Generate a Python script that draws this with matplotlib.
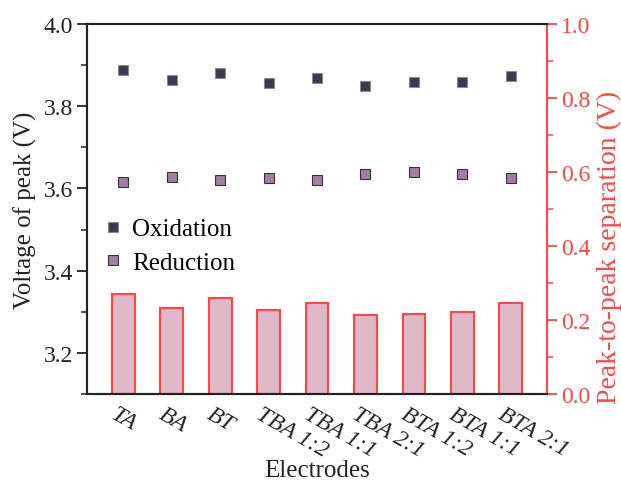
import numpy as np
import matplotlib
matplotlib.use("Agg")
import matplotlib.pyplot as plt
import matplotlib.transforms as mtransforms
from matplotlib.ticker import MultipleLocator

plt.rcParams['font.family'] = ['Liberation Serif', 'DejaVu Serif']

electrodes = ['TA', 'BA', 'BT', 'TBA 1:2', 'TBA 1:1', 'TBA 2:1', 'BTA 1:2', 'BTA 1:1', 'BTA 2:1']
oxidation = [3.888, 3.863, 3.882, 3.856, 3.868, 3.848, 3.859, 3.859, 3.874]
reduction = [3.616, 3.628, 3.621, 3.626, 3.621, 3.635, 3.640, 3.635, 3.626]
separation = [0.270, 0.233, 0.259, 0.228, 0.246, 0.212, 0.216, 0.222, 0.247]

red = '#ff4545'
fs = 17

fig = plt.figure(figsize=(6.21, 4.81), dpi=100)
ax = fig.add_axes([0.140, 0.179, 0.741, 0.769])
ax2 = ax.twinx()

x = np.arange(len(electrodes))

ax2.bar(x, separation, width=0.47, color='#e0b9c9', edgecolor=red, linewidth=1.5, zorder=2)
ax.plot(x, oxidation, 's', ms=7.5, color='#3c3b4b', mec='#8a8a8a', mew=0.8, label='Oxidation', zorder=3)
ax.plot(x, reduction, 's', ms=7.5, color='#a27f9f', mec='#333333', mew=0.8, label='Reduction', zorder=3)

ax.set_xlim(-0.75, 8.75)
ax.set_ylim(3.1, 4.0)
ax2.set_ylim(0, 1.0)

ax.yaxis.set_major_locator(MultipleLocator(0.2))
ax.yaxis.set_minor_locator(MultipleLocator(0.1))
ax2.yaxis.set_major_locator(MultipleLocator(0.2))
ax2.yaxis.set_minor_locator(MultipleLocator(0.1))

# x tick labels drawn as texts so they can be nudged like the original
ax.set_xticks(x)
ax.set_xticklabels([])
ax.tick_params(axis='x', length=0)
blend = mtransforms.blended_transform_factory(ax.transData, ax.transAxes)
off = mtransforms.ScaledTranslation(-6 / 100, -9 / 100, fig.dpi_scale_trans)
for xi, lab in zip(x, electrodes):
    ax.text(xi, 0, lab, transform=blend + off, rotation=-30, ha='left', va='top',
            rotation_mode='anchor', fontstyle='italic', fontsize=fs, color='#222222')

ax.tick_params(axis='y', which='major', direction='out', length=7, width=1.3, labelsize=fs, colors='#222222', pad=3)
ax.tick_params(axis='y', which='minor', direction='out', length=4, width=1.1, colors='#222222')
ax2.tick_params(axis='y', which='major', direction='out', length=7, width=1.3, labelsize=fs, colors=red, pad=3)
ax2.tick_params(axis='y', which='minor', direction='out', length=4, width=1.1, colors=red)

for s in ['left', 'bottom', 'top']:
    ax.spines[s].set_linewidth(1.5)
    ax.spines[s].set_color('#222222')
    ax2.spines[s].set_linewidth(1.5)
    ax2.spines[s].set_color('#222222')
ax.spines['right'].set_visible(False)
ax2.spines['right'].set_color(red)
ax2.spines['right'].set_linewidth(1.5)

ax.set_ylabel('Voltage of peak (V)', fontsize=18, color='#222222', labelpad=5)
ax2.set_ylabel('Peak-to-peak separation (V)', fontsize=20, color=red)
ax2.yaxis.set_label_coords(1.108, 0.40)
ax.set_xlabel('Electrodes', fontsize=18, color='#222222')
ax.xaxis.set_label_coords(0.5, -0.176)

ax.set_zorder(ax2.get_zorder() + 1)
ax.patch.set_visible(False)

ax.legend(loc='upper left', bbox_to_anchor=(-0.014, 0.53), frameon=False, fontsize=18,
          handletextpad=0.25, labelspacing=0.45, borderaxespad=0.4, handlelength=1.0)

fig.savefig('out.png', dpi=100)
